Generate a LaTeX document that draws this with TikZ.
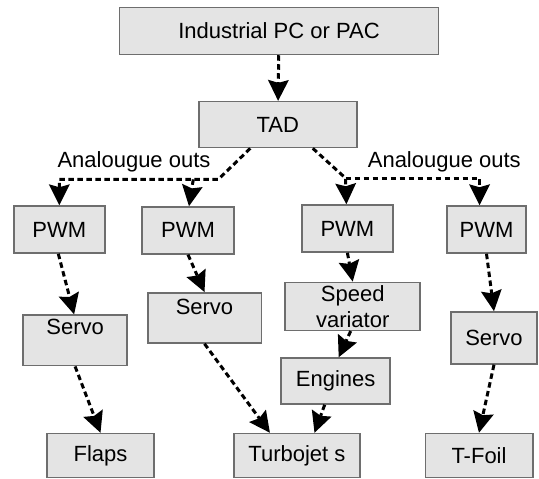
\documentclass[tikz,border=0pt]{standalone}
\usepackage{fontspec}
\setmainfont{Liberation Sans}
\usepackage{tikz}
\usetikzlibrary{arrows.meta,positioning}
\definecolor{boxfill}{RGB}{228,228,228}
\definecolor{boxedge}{RGB}{110,110,110}

\begin{document}
\begin{tikzpicture}[
        x=1pt,y=1pt,
        box/.style={draw=boxedge,line width=1.5pt,fill=boxfill,
                    inner ysep=0pt,text centered,
                    font=\fontsize{22pt}{26pt}\selectfont},
        lbl/.style={font=\fontsize{22pt}{26pt}\selectfont,inner sep=0pt},
        arr/.style={-{Stealth[length=21pt,width=21pt,inset=3pt,
                    line width=0pt,sep=0pt]},
                    line width=3pt,dash pattern=on 5.5pt off 3.5pt},
      ]
        \useasboundingbox (0,0) rectangle (539,479);
        \node[box,minimum width=319pt,minimum height=47pt](pc)
          at (279,448){Industrial PC or PAC};
        \node[box,minimum width=158pt,minimum height=46pt](tad)
          at (277.8,354.4){TAD};
        % first row
        \node[box,minimum width=91pt,minimum height=47pt](pwm1)
          at (59.3,249.5){PWM};
        \node[box,minimum width=92pt,minimum height=47pt](pwm2)
          at (188,248.6){PWM};
        \node[box,minimum width=91pt,minimum height=47pt](pwm3)
          at (347.4,250.5){PWM};
        \node[box,minimum width=79pt,minimum height=47pt](pwm4)
          at (486.5,249.5){PWM};
        % second row
        \node[box,minimum width=104pt,text height=19.6pt,
          text depth=31pt](servoa) at (75.1,138.6){Servo};
        \node[box,minimum width=113.5pt,text height=22.1pt,
          text depth=28.1pt](servob) at (204.5,161.1){Servo};
        \node[box,minimum width=135pt,minimum height=48pt,
          align=center](speed) at (352.7,172.7){Speed\\variator};
        \node[box,minimum width=86pt,minimum height=52pt](servod)
          at (494,141.1){Servo};
        \node[box,minimum width=109pt,minimum height=46pt](eng)
          at (335.7,98){Engines};
        % bottom row
        \node[box,minimum width=107pt,minimum height=44pt](flaps)
          at (100.5,23.5){Flaps};
        \node[box,minimum width=126pt,minimum height=44pt](turbo)
          at (296.9,23.5){Turbojet s};
        \node[box,minimum width=107.5pt,minimum height=44pt](tfoil)
          at (479,23.5){T-Foil};
        \node[lbl](outl) at (134,317.4){Analougue outs};
        \node[lbl](outr) at (444.3,317.4){Analougue outs};
        \coordinate(jl) at (218.3,299.6);
        \coordinate(jr) at (345.5,300.9);
        \draw[arr](pc)--(tad);
        \draw[arr]([xshift=-27.5pt]tad.south)--(jl)-|(pwm1.north);
        \draw[arr]([xshift=-25pt]jl)--([xshift=1pt]pwm2.north);
        \draw[arr]([xshift=35pt]tad.south)--(jr)--([xshift=-1pt]pwm3.north);
        \draw[arr](jr)-|([xshift=-7pt]pwm4.north);
        \draw[arr]([xshift=-1pt]pwm1.south)--([xshift=-1pt]servoa.north);
        \draw[arr](pwm2.south)--(servob.north);
        \draw[arr](pwm3.south)--(speed.north);
        \draw[arr](pwm4.south)--(servod.north);
        \draw[arr](servoa.south)--(flaps.north);
        \draw[arr](servob.south)--([xshift=-27pt]turbo.north);
        \draw[arr]([xshift=-2pt]speed.south)--([xshift=3pt]eng.north);
        \draw[arr]([xshift=-11pt]eng.south)--([xshift=17.6pt]turbo.north);
        \draw[arr](servod.south)--(tfoil.north);
      \end{tikzpicture}
\end{document}
